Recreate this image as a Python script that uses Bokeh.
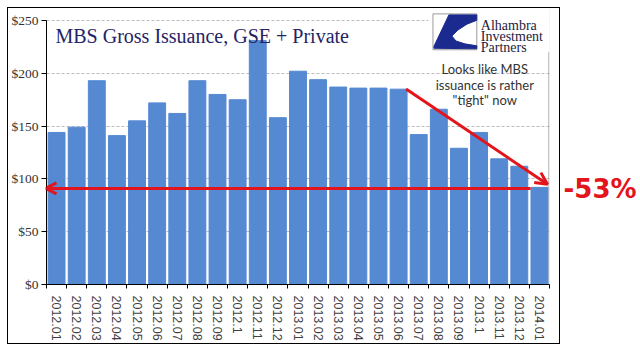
from bokeh.plotting import figure
from bokeh.models import FixedTicker, Label, Arrow, OpenHead, Span, ColumnDataSource, Div, Spacer
from bokeh.layouts import row, column
from bokeh.embed import file_html
from bokeh.resources import INLINE

# ---- data ----
months = ["2012.01", "2012.02", "2012.03", "2012.04", "2012.05", "2012.06",
          "2012.07", "2012.08", "2012.09", "2012.1", "2012.11", "2012.12",
          "2013.01", "2013.02", "2013.03", "2013.04", "2013.05", "2013.06",
          "2013.07", "2013.08", "2013.09", "2013.1", "2013.11", "2013.12",
          "2014.01"]
issuance = [144, 149, 193, 141, 155, 172, 162, 193, 180, 175, 231, 158,
            202, 194, 187, 186, 186, 185, 142, 166, 129, 144, 119, 112, 92]
y_ticks = [0, 50, 100, 150, 200, 250]
y_tick_labels = ["$0", "$50", "$100", "$150", "$200", "$250"]
title_text = "MBS Gross Issuance, GSE + Private"
note_lines = ["Looks like MBS", "issuance is rather", "\"tight\" now"]
logo_lines = ["Alhambra", "Investment", "Partners"]
change_text = "-53%"

RED = "#e3141b"
BAR = "#5589d2"
N = len(months)

# chart canvas sits inside a 1px black box; page px of the canvas origin = (8, 8)
W, H = 551, 335
FL, FR, FB = 36, 541, 281        # frame edges on the canvas
SLOT = (FR - FL) / N
PX_PER_UNIT = 1.075

idx = list(range(1, N + 1))
src = ColumnDataSource(dict(x=idx, top=issuance, month=months))

p = figure(width=W, height=H, x_range=(0.5, N + 0.5), y_range=(0, FB / PX_PER_UNIT),
           output_backend="svg", toolbar_location=None, min_border_left=FL,
           min_border_right=W - FR, min_border_top=0, min_border_bottom=H - FB,
           margin=0)
p.outline_line_color = None
p.background_fill_color = "white"

p.vbar(x="x", top="top", width=0.84, source=src, color=BAR)

# page px -> data helpers for decorations
def sx(px):
    return 0.5 + (px - 8 - FL) / SLOT

def sy(py):
    return (FB - (py - 8)) / PX_PER_UNIT

# axes
p.yaxis.ticker = FixedTicker(ticks=y_ticks)
p.yaxis.major_label_overrides = {t: l for t, l in zip(y_ticks, y_tick_labels)}
p.yaxis.bounds = (0, 250)
p.yaxis.major_tick_out = 5
p.yaxis.major_tick_in = 0
p.yaxis.minor_tick_out = 0
p.yaxis.minor_tick_in = 0
p.yaxis.major_label_standoff = 3
p.yaxis.major_label_text_font = "Liberation Serif"
p.yaxis.major_label_text_font_size = "13.5px"
p.yaxis.major_label_text_color = "#333333"
p.yaxis.axis_line_color = "black"
p.yaxis.major_tick_line_color = "black"

p.xaxis.ticker = FixedTicker(ticks=idx, minor_ticks=[i + 0.5 for i in range(0, N + 1)])
p.xaxis.major_label_overrides = {i: m for i, m in zip(idx, months)}
p.xaxis.major_label_orientation = "vertical"
p.xaxis.major_tick_out = 0
p.xaxis.major_tick_in = 0
p.xaxis.minor_tick_out = 4
p.xaxis.minor_tick_in = 0
p.xaxis.minor_tick_line_color = "black"
p.xaxis.major_label_standoff = 7
p.xaxis.major_label_text_font = "Liberation Sans"
p.xaxis.major_label_text_font_size = "12.5px"
p.xaxis.major_label_text_color = "#404040"
p.xaxis.axis_line_color = "black"

p.xgrid.grid_line_color = None
p.ygrid.ticker = FixedTicker(ticks=y_ticks[1:])
p.ygrid.grid_line_color = "#bdbdbd"
p.ygrid.grid_line_dash = "3 2"

# right border of plot area
p.add_layout(Span(location=N + 0.47, dimension="height", line_color="#a0a0a0",
                  line_width=1, level="underlay"))

# white area behind logo
p.quad(left=sx(428), right=N + 1, bottom=sy(52), top=400, color="white")

# logo
p.quad(left=sx(432), right=sx(476), bottom=sy(50), top=sy(13.5),
       fill_color="white", line_color="#9a9a9a", line_width=1)
logo_px = [(448, 14.5), (476, 14.5), (476, 20), (466, 24), (457, 30), (451, 36),
           (455, 41), (464, 44), (476, 46), (476, 49), (433, 48.5), (433, 46.5)]
p.patch(x=[sx(a) for a, b in logo_px], y=[sy(b) for a, b in logo_px],
        color="#1b2a8e")
for line, base in zip(logo_lines, [25.5, 37, 48]):
    p.add_layout(Label(x=sx(480), y=sy(base), text=line, text_font="Liberation Serif",
                       text_font_size="14px", text_color="#1c1c3c",
                       text_baseline="alphabetic"))

# title
p.add_layout(Label(x=sx(53), y=sy(36), text=title_text, text_font="Liberation Serif",
                   text_font_size="20px", text_color="#252366", text_baseline="alphabetic"))

# note
for line, base in zip(note_lines, [70, 85.5, 101]):
    p.add_layout(Label(x=sx(484), y=sy(base), text=line, text_font="Lato",
                       text_font_size="13px", text_color="#333333", text_align="center",
                       text_baseline="alphabetic"))

# arrows
p.add_layout(Arrow(end=OpenHead(size=11, line_color=RED, line_width=3),
                   x_start=sx(530), y_start=91, x_end=sx(43), y_end=91,
                   line_color=RED, line_width=3))
p.add_layout(Arrow(end=OpenHead(size=12, line_color=RED, line_width=3),
                   x_start=sx(405), y_start=sy(90), x_end=sx(547), y_end=sy(187),
                   line_color=RED, line_width=3))

# side figure with -53%  (its top is at page y = 7)
H2 = 337
p2 = figure(width=80, height=H2, x_range=(0, 80), y_range=(H2, 0),
            output_backend="svg", toolbar_location=None,
            x_axis_type=None, y_axis_type=None, min_border=0, margin=0)
p2.outline_line_color = None
p2.grid.visible = False
p2.add_layout(Label(x=3, y=188 - 7, text=change_text, text_font="DejaVu Sans",
                    text_font_style="bold", text_font_size="26px", text_color=RED,
                    text_baseline="alphabetic"))

def line_div(w, h):
    return Div(width=w, height=h, margin=0, styles={"background-color": "black"})

box = column(line_div(W + 2, 1),
             row(line_div(1, H), p, line_div(1, H), spacing=0, margin=0),
             line_div(W + 2, 1), spacing=0, margin=0)
layout = row(Spacer(width=7, height=1, margin=0),
             column(Spacer(width=1, height=7, margin=0),
                    row(box, p2, spacing=0, margin=0), spacing=0, margin=0),
             spacing=0, margin=0)
open("out.html", "w").write(file_html(layout, INLINE))
